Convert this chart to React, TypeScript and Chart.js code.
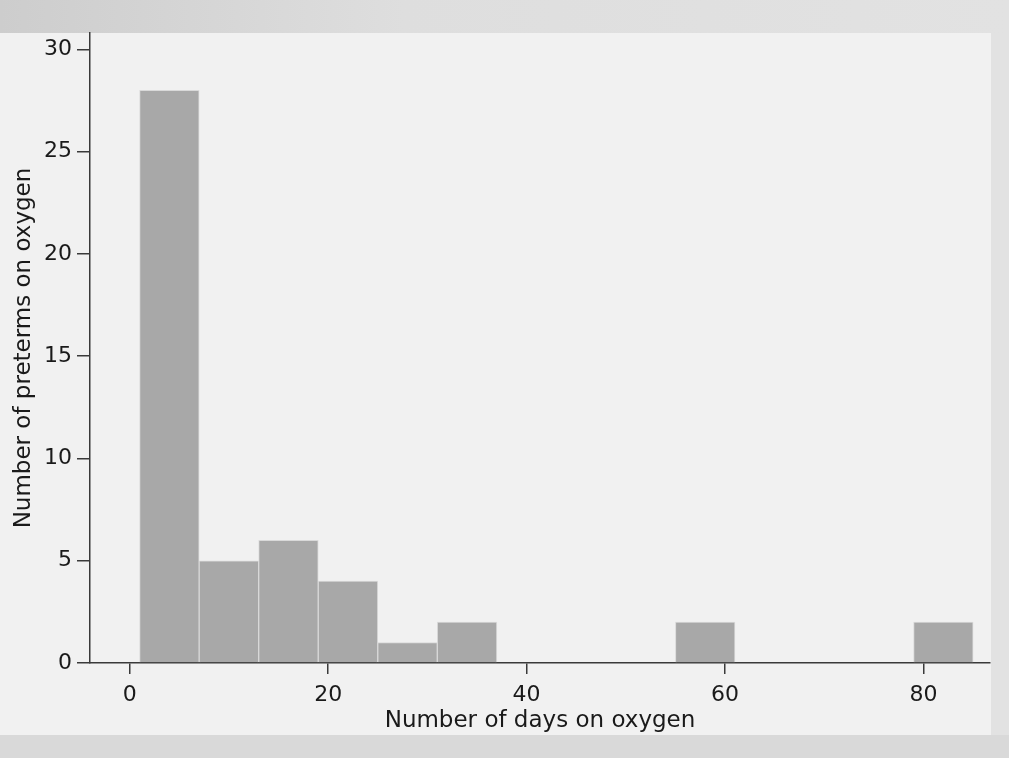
import React, { useEffect, useRef } from "react";
import { Chart, registerables } from "chart.js";

Chart.register(...registerables);

// Histogram bins (lower edge of each bin, in days) and counts
const binStarts = [1, 7, 13, 19, 25, 31, 37, 43, 49, 55, 61, 67, 73, 79];
const binWidth = 6;
const counts = [28, 5, 6, 4, 1, 2, 0, 0, 0, 2, 0, 0, 0, 2];

const xTicks = [0, 20, 40, 60, 80];
const yTicks = [0, 5, 10, 15, 20, 25, 30];

const xTitle = "Number of days on oxygen";
const yTitle = "Number of preterms on oxygen";

export default function App() {
  const ref = useRef<HTMLCanvasElement>(null);

  useEffect(() => {
    const family = "'DejaVu Sans', sans-serif";
    const chart = new Chart(ref.current as HTMLCanvasElement, {
      type: "bar",
      data: {
        datasets: [
          {
            data: binStarts.map((s, i) => ({ x: s + binWidth / 2, y: counts[i] })),
            backgroundColor: "#a8a8a8",
            borderColor: "#d9d9d9",
            borderWidth: 1,
            barPercentage: 1,
            categoryPercentage: 1,
          },
        ],
      },
      options: {
        responsive: false,
        animation: false,
        layout: { padding: { left: 0, right: 19, top: 33, bottom: 0 } },
        plugins: {
          legend: { display: false },
          tooltip: { enabled: false },
        },
        scales: {
          x: {
            type: "linear",
            min: -4,
            max: 86.7,
            offset: false,
            afterFit: (s: any) => {
              s.height = 95;
            },
            afterBuildTicks: (s: any) => {
              s.ticks = xTicks.map((v) => ({ value: v }));
            },
            ticks: {
              font: { family, size: 22 },
              color: "#1a1a1a",
              padding: 8,
              maxRotation: 0,
              autoSkip: false,
            },
            grid: {
              offset: false,
              drawOnChartArea: false,
              drawTicks: true,
              tickLength: 11,
              color: "#3a3a3a",
              lineWidth: 1.5,
            },
            border: { color: "#3a3a3a", width: 1.5 },
            title: {
              display: true,
              text: xTitle,
              font: { family, size: 23 },
              color: "#1a1a1a",
              padding: { top: 0, bottom: 23 },
            },
          },
          y: {
            type: "linear",
            min: 0,
            max: 30.8,
            afterFit: (s: any) => {
              s.width = 90;
            },
            afterBuildTicks: (s: any) => {
              s.ticks = yTicks.map((v) => ({ value: v }));
            },
            ticks: {
              font: { family, size: 22 },
              color: "#1a1a1a",
              padding: 5,
              autoSkip: false,
            },
            grid: {
              drawOnChartArea: false,
              drawTicks: true,
              tickLength: 13,
              color: "#3a3a3a",
              lineWidth: 1.5,
            },
            border: { color: "#3a3a3a", width: 1.5 },
            title: {
              display: true,
              text: yTitle,
              font: { family, size: 23 },
              color: "#1a1a1a",
              padding: { top: 10, bottom: 0 },
            },
          },
        },
      },
    } as any);
    return () => chart.destroy();
  }, []);

  return (
    <div
      style={{
        position: "fixed",
        left: 0,
        top: 0,
        width: 1009,
        height: 758,
        background: "#d9d9d9",
        overflow: "hidden",
      }}
    >
      <div
        style={{
          position: "absolute",
          left: 0,
          top: 0,
          width: 1009,
          height: 33,
          background: "linear-gradient(to right, #cdcdcd, #dedede 40%, #e2e2e2)",
        }}
      />
      <div
        style={{
          position: "absolute",
          left: 0,
          top: 33,
          width: 991,
          height: 702,
          background: "#f1f1f1",
        }}
      />
      <div
        style={{
          position: "absolute",
          left: 991,
          top: 33,
          width: 18,
          height: 702,
          background: "#e2e2e2",
        }}
      />
      <canvas
        ref={ref}
        width={1009}
        height={758}
        style={{ position: "absolute", left: 0, top: 0, display: "block" }}
      />
    </div>
  );
}
